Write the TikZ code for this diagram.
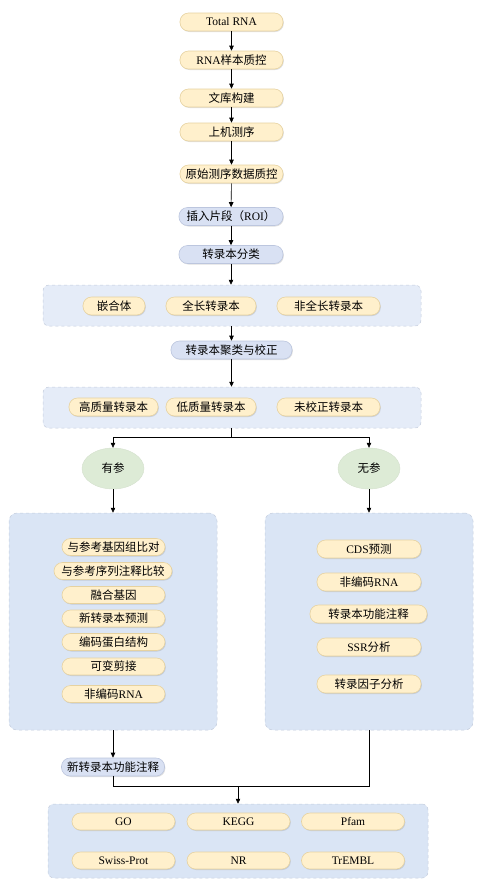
\documentclass[tikz,border=0pt]{standalone}
\usepackage{fontspec}
\setmainfont{Liberation Serif}
\newfontfamily\cjk{Noto Sans CJK SC}
\usetikzlibrary{arrows.meta,shadows,shapes.geometric}
\definecolor{ypfill}{HTML}{FFF0CC}
\definecolor{ypdraw}{HTML}{E6D2A0}
\definecolor{bpfill}{HTML}{D9E1F3}
\definecolor{bpdraw}{HTML}{BCC6DE}
\definecolor{grpfill}{HTML}{E5ECF8}
\definecolor{grpdraw}{HTML}{C3CCDC}
\definecolor{bigfill}{HTML}{DAE5F5}
\definecolor{elfill}{HTML}{DDEBD6}
\begin{document}
\begin{tikzpicture}[x=1pt,y=-1pt,
  font=\fontsize{11.5}{13}\selectfont,
  shad/.style={drop shadow={opacity=0.25,shadow xshift=0.8pt,shadow yshift=-1pt,fill=gray}},
  ypill/.style={draw=ypdraw,fill=ypfill,rounded corners=8.5pt,minimum height=18pt,inner sep=0pt,line width=0.6pt,shad},
  bpill/.style={draw=bpdraw,fill=bpfill,rounded corners=8.5pt,minimum height=18pt,inner sep=0pt,line width=0.6pt,shad},
  grp/.style={draw=grpdraw,fill=grpfill,dashed,rounded corners=6pt,inner sep=0pt,line width=0.5pt},
  big/.style={draw=grpdraw,fill=bigfill,dashed,rounded corners=8pt,inner sep=0pt,line width=0.5pt},
  elnode/.style={ellipse,draw=elfill!90!gray,fill=elfill,inner sep=0pt,minimum width=62pt,minimum height=41pt,line width=0.4pt},
  arr/.style={-{Triangle[length=5pt,width=4.5pt]},line width=0.6pt},
  ln/.style={line width=0.6pt}]
\useasboundingbox (0,0) rectangle (482,887);

% main chain
\node[ypill,minimum width=103pt] (n1) at (231.5,22) {Total RNA};
\node[ypill,minimum width=103pt] (n2) at (231.5,60) {RNA{\cjk 样本质控}};
\node[ypill,minimum width=103pt] (n3) at (231.5,98) {\cjk 文库构建};
\node[ypill,minimum width=103pt] (n4) at (231.5,132) {\cjk 上机测序};
\node[ypill,minimum width=103pt] (n5) at (231.5,174) {\cjk 原始测序数据质控};
\node[bpill,minimum width=104pt] (n6) at (231,216.5) {{\cjk 插入片段（}ROI{\cjk ）}};
\node[bpill,minimum width=104pt] (n7) at (231,254.5) {\cjk 转录本分类};

% group 1
\node[grp,minimum width=378pt,minimum height=41pt] (g1) at (232,305.5) {};
\node[ypill,minimum width=62pt] (c1) at (114,306) {\cjk 嵌合体};
\node[ypill,minimum width=90pt] (c2) at (211,306) {\cjk 全长转录本};
\node[ypill,minimum width=103pt] (c3) at (328.5,306) {\cjk 非全长转录本};

\node[bpill,minimum width=121pt] (n8) at (231.5,350) {\cjk 转录本聚类与校正};

% group 2
\node[grp,minimum width=378pt,minimum height=41pt] (g2) at (232,407.5) {};
\node[ypill,minimum width=89pt] (q1) at (113.5,407) {\cjk 高质量转录本};
\node[ypill,minimum width=90pt] (q2) at (211,407) {\cjk 低质量转录本};
\node[ypill,minimum width=103pt] (q3) at (328.5,407) {\cjk 未校正转录本};

% ellipses
\node[elnode] (you) at (113,468.5) {\cjk 有参};
\node[elnode] (wu) at (369,468.5) {\cjk 无参};

% big boxes
\node[big,minimum width=208pt,minimum height=217pt] (lb) at (113,621.5) {};
\node[big,minimum width=208pt,minimum height=217pt] (rb) at (369,621.5) {};

\node[ypill,minimum width=103pt,minimum height=17pt] (l1) at (113.5,547) {\cjk 与参考基因组比对};
\node[ypill,minimum width=118pt,minimum height=17pt] (l2) at (113,571) {\cjk 与参考序列注释比较};
\node[ypill,minimum width=103pt,minimum height=17pt] (l3) at (113.5,595) {\cjk 融合基因};
\node[ypill,minimum width=103pt,minimum height=17pt] (l4) at (113.5,618.5) {\cjk 新转录本预测};
\node[ypill,minimum width=103pt,minimum height=17pt] (l5) at (113.5,642) {\cjk 编码蛋白结构};
\node[ypill,minimum width=103pt,minimum height=17pt] (l6) at (113.5,666.5) {\cjk 可变剪接};
\node[ypill,minimum width=103pt,minimum height=17pt] (l7) at (113.5,694) {{\cjk 非编码}RNA};

\node[ypill,minimum width=104pt] (r1) at (369,549) {CDS{\cjk 预测}};
\node[ypill,minimum width=104pt] (r2) at (369,582) {{\cjk 非编码}RNA};
\node[ypill,minimum width=117pt] (r3) at (368.5,614) {\cjk 转录本功能注释};
\node[ypill,minimum width=104pt] (r4) at (369,647) {SSR{\cjk 分析}};
\node[ypill,minimum width=104pt] (r5) at (369,684) {\cjk 转录因子分析};

\node[bpill,minimum width=103pt] (xz) at (113,767) {\cjk 新转录本功能注释};

% bottom box
\node[big,minimum width=380pt,minimum height=74pt,rounded corners=6pt] (bb) at (238,841) {};
\node[ypill,minimum width=103pt,minimum height=17pt] (d1) at (123.5,821.5) {GO};
\node[ypill,minimum width=103pt,minimum height=17pt] (d2) at (238.5,821.5) {KEGG};
\node[ypill,minimum width=103pt,minimum height=17pt] (d3) at (353,821.5) {Pfam};
\node[ypill,minimum width=103pt,minimum height=17pt] (d4) at (123.5,860.5) {Swiss-Prot};
\node[ypill,minimum width=103pt,minimum height=17pt] (d5) at (238.5,860.5) {NR};
\node[ypill,minimum width=103pt,minimum height=17pt] (d6) at (353,860.5) {TrEMBL};

% connectors
\draw[arr] (n1) -- (n2);
\draw[arr] (n2) -- (n3);
\draw[arr] (n3) -- (n4);
\draw[arr] (n4) -- (n5);
\draw[arr] (n5) -- (n6);
\draw[arr] (n6) -- (n7);
\draw[arr] (n7.south) -- (n7.south |- g1.north);
\draw[arr] (g1.south -| n8) -- (n8);
\draw[arr] (n8.south) -- (n8.south |- g2.north);
\coordinate (split) at (231,437);
\draw[ln] (split |- g2.south) -- (split);
\draw[arr] (split) -| (you.north);
\draw[arr] (split) -| (wu.north);
\draw[arr] (you) -- (lb);
\draw[arr] (wu) -- (rb);
\draw[arr] (lb.south) -- (xz.north);
\coordinate (join) at (238,786);
\draw[ln] (xz.south) |- (join);
\draw[ln] (rb.south) |- (join);
\draw[arr] (join) -- (bb.north);
\end{tikzpicture}
\end{document}
